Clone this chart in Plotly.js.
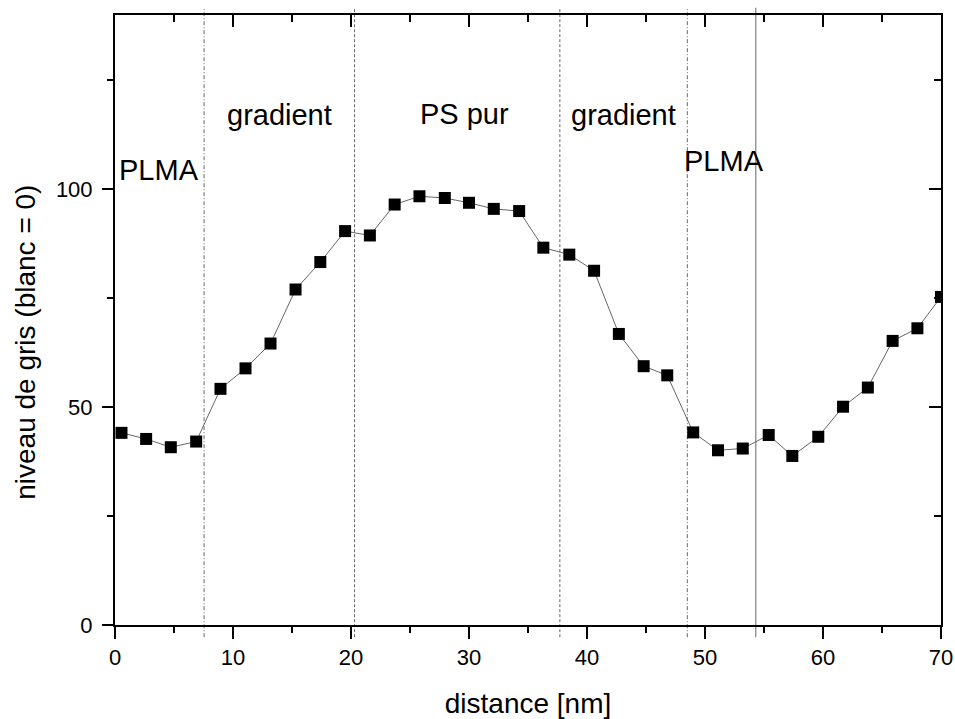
<!DOCTYPE html>
<html>
<head>
<meta charset="utf-8">
<script src="https://cdn.plot.ly/plotly-3.0.1.min.js"></script>
<style>html,body{margin:0;padding:0;background:#fff;}</style>
</head>
<body>
<div id="chart" style="width:955px;height:719px;"></div>
<script>
// distance [nm]
const distance = [0.55, 2.64, 4.73, 6.88, 8.94, 11.06, 13.18, 15.3, 17.4, 19.5,
  21.6, 23.7, 25.8, 27.95, 30.0, 32.1, 34.25, 36.3, 38.5, 40.6,
  42.7, 44.8, 46.8, 49.0, 51.1, 53.2, 55.4, 57.4, 59.6, 61.7,
  63.8, 65.9, 68.0, 70.0];
// niveau de gris (blanc = 0)
const greyLevel = [44.1, 42.7, 40.8, 42.1, 54.2, 58.9, 64.6, 77.0, 83.3, 90.4,
  89.4, 96.5, 98.4, 98.0, 96.9, 95.5, 95.0, 86.6, 85.0, 81.3,
  66.8, 59.4, 57.3, 44.2, 40.1, 40.5, 43.6, 38.8, 43.2, 50.1,
  54.5, 65.2, 68.1, 75.3];
// region boundaries [nm]
const boundaries = [7.55, 20.3, 37.7, 48.5, 54.3];
const boundaryStyles = ['dashdot', 'dash', 'dash', 'dashdot', 'solid'];
// region labels
const regionLabels = ['PLMA', 'gradient', 'PS pur', 'gradient', 'PLMA'];
const regionLabelX = [3.77, 13.9, 29.6, 43.1, 51.6];
const regionLabelY = [104.5, 117, 117.2, 117, 106.4];

const FONT = 'Liberation Sans, Arial, sans-serif';
const DASHES = {dashdot: '4px,2px,1px,2px', dash: '3px,2px', solid: 'solid'};

const traces = [
  {
    x: distance, y: greyLevel, type: 'scatter', mode: 'lines+markers',
    line: {color: '#666', width: 1},
    marker: {symbol: 'square', size: 12, color: '#000', line: {width: 0}},
    showlegend: false, hoverinfo: 'x+y'
  },
  {
    x: [null], y: [null], xaxis: 'x2', yaxis: 'y2', type: 'scatter',
    mode: 'markers', showlegend: false, hoverinfo: 'skip'
  }
];

const shapes = boundaries.map((b, i) => ({
  type: 'line', xref: 'x', yref: 'paper', x0: b, x1: b, y0: -0.02, y1: 1.012,
  line: {
    color: boundaryStyles[i] === 'solid' ? '#999' : '#666',
    width: boundaryStyles[i] === 'solid' ? 1.5 : 1,
    dash: DASHES[boundaryStyles[i]]
  },
  layer: 'below'
}));

const annotations = regionLabels.map((t, i) => ({
  text: t, x: regionLabelX[i], y: regionLabelY[i], xref: 'x', yref: 'y',
  showarrow: false, xanchor: 'center', yanchor: 'middle',
  font: {family: FONT, size: 29, color: '#000'}
}));
annotations.push({
  text: 'niveau de gris (blanc = 0)', textangle: -90,
  xref: 'paper', yref: 'paper', x: -0.108, y: 0.464,
  xanchor: 'center', yanchor: 'middle', showarrow: false,
  font: {family: FONT, size: 28, color: '#000'}
});

const layout = {
  width: 955, height: 719,
  margin: {l: 115, r: 14, t: 15, b: 94},
  paper_bgcolor: '#fff', plot_bgcolor: '#fff',
  showlegend: false,
  font: {family: FONT, color: '#000'},
  xaxis: {
    range: [0, 70], tick0: 0, dtick: 10,
    ticks: 'outside', ticklen: 12, tickwidth: 2, tickcolor: '#000',
    minor: {dtick: 5, ticks: 'outside', ticklen: 6, tickwidth: 2, tickcolor: '#000'},
    showline: true, linewidth: 2, linecolor: '#000',
    showgrid: false, zeroline: false,
    tickfont: {family: FONT, size: 22, color: '#000'},
    title: {text: 'distance [nm]', font: {family: FONT, size: 28, color: '#000'}, standoff: 26}
  },
  yaxis: {
    range: [0, 140], tick0: 0, dtick: 50,
    ticks: 'outside', ticklen: 11, tickwidth: 2, tickcolor: '#000',
    minor: {dtick: 25, ticks: 'outside', ticklen: 6, tickwidth: 2, tickcolor: '#000'},
    showline: true, linewidth: 2, linecolor: '#000',
    showgrid: false, zeroline: false, ticklabelstandoff: 5,
    tickfont: {family: FONT, size: 22, color: '#000'}
  },
  xaxis2: {
    overlaying: 'x', side: 'top', anchor: 'y2', range: [0, 70], tick0: 0, dtick: 10,
    ticks: 'inside', ticklen: 12, tickwidth: 2, tickcolor: '#000',
    minor: {dtick: 5, ticks: 'inside', ticklen: 7, tickwidth: 2, tickcolor: '#000'},
    showline: true, linewidth: 2, linecolor: '#000',
    showgrid: false, zeroline: false, showticklabels: false
  },
  yaxis2: {
    overlaying: 'y', side: 'right', anchor: 'x2', range: [0, 140], tick0: 0, dtick: 50,
    ticks: 'inside', ticklen: 12, tickwidth: 2, tickcolor: '#000',
    minor: {dtick: 25, ticks: 'inside', ticklen: 7, tickwidth: 2, tickcolor: '#000'},
    showline: true, linewidth: 2, linecolor: '#000',
    showgrid: false, zeroline: false, showticklabels: false
  },
  shapes: shapes,
  annotations: annotations
};

Plotly.newPlot('chart', traces, layout, {displayModeBar: false, staticPlot: true});
</script>
</body>
</html>
